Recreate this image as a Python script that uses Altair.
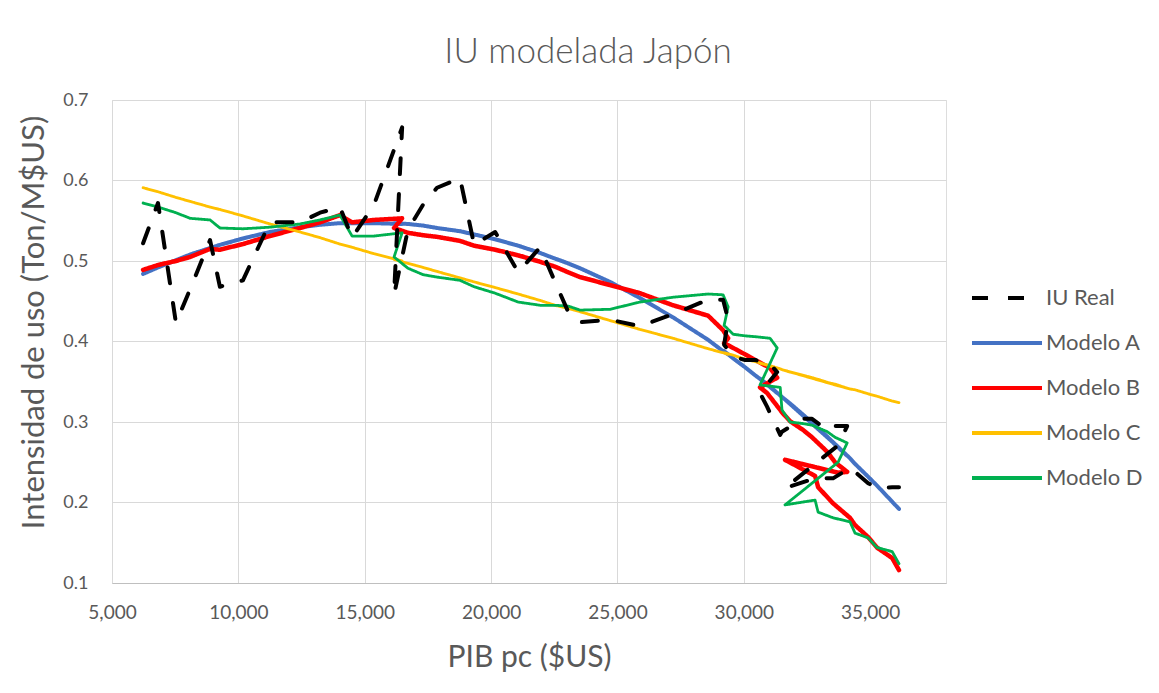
import altair as alt
import pandas as pd

years = list(range(1960, 2019))
pib_pc = [6230, 6820, 7530, 8090, 8880, 9270, 10180, 11250, 12440, 13230,
          14020, 14500, 15370, 16480, 16160, 16710, 17310, 17860, 18770, 19330,
          20160, 21070, 21940, 22530, 23050, 23520, 24710, 25890, 27200, 28590,
          29180, 29380, 29220, 29580, 30050, 30450, 31040, 31320, 30640, 30920,
          31440, 31510, 31830, 32350, 32700, 33300, 33610, 34090, 33730, 31630,
          32820, 32940, 33530, 34200, 34400, 34920, 35270, 35870, 36140]

iu_real = [0.522, 0.572, 0.423, 0.465, 0.526, 0.468, 0.476, 0.548, 0.548, 0.560,
           0.567, 0.529, 0.570, 0.666, 0.458, 0.539, 0.570, 0.591, 0.603, 0.520,
           0.536, 0.486, 0.517, 0.474, 0.437, 0.424, 0.427, 0.419, 0.434, 0.452,
           0.452, 0.427, 0.396, 0.381, 0.377, 0.377, 0.372, 0.362, 0.336, 0.319,
           0.284, 0.288, 0.294, 0.304, 0.304, 0.290, 0.295, 0.295, 0.271, 0.218,
           0.230, 0.230, 0.230, 0.243, 0.238, 0.224, 0.218, 0.219, 0.219]

modelo_a = [0.484, 0.492, 0.501, 0.508, 0.516, 0.520, 0.528, 0.536, 0.542, 0.545,
            0.547, 0.547, 0.547, 0.546, 0.547, 0.546, 0.544, 0.541, 0.537, 0.533,
            0.527, 0.519, 0.510, 0.503, 0.497, 0.491, 0.474, 0.454, 0.430, 0.402,
            0.388, 0.384, 0.388, 0.379, 0.368, 0.358, 0.344, 0.336, 0.354, 0.347,
            0.333, 0.331, 0.323, 0.309, 0.299, 0.282, 0.272, 0.258, 0.269, 0.328,
            0.295, 0.292, 0.275, 0.255, 0.248, 0.232, 0.221, 0.201, 0.192]

modelo_b = [0.489, 0.495, 0.500, 0.505, 0.515, 0.514, 0.521, 0.531, 0.541, 0.548,
            0.557, 0.548, 0.551, 0.553, 0.541, 0.535, 0.532, 0.530, 0.525, 0.519,
            0.514, 0.507, 0.499, 0.493, 0.486, 0.480, 0.470, 0.460, 0.445, 0.432,
            0.414, 0.404, 0.398, 0.392, 0.384, 0.377, 0.367, 0.355, 0.343, 0.336,
            0.315, 0.312, 0.301, 0.290, 0.281, 0.263, 0.250, 0.238, 0.237, 0.253,
            0.233, 0.219, 0.199, 0.181, 0.172, 0.157, 0.144, 0.131, 0.116]

modelo_c = [0.591, 0.586, 0.579, 0.574, 0.567, 0.564, 0.556, 0.546, 0.536, 0.529,
            0.521, 0.517, 0.509, 0.500, 0.502, 0.497, 0.492, 0.487, 0.479, 0.474,
            0.467, 0.459, 0.451, 0.445, 0.441, 0.437, 0.426, 0.415, 0.404, 0.391,
            0.386, 0.384, 0.386, 0.383, 0.378, 0.375, 0.370, 0.367, 0.373, 0.371,
            0.366, 0.365, 0.362, 0.358, 0.355, 0.349, 0.347, 0.342, 0.345, 0.364,
            0.354, 0.353, 0.347, 0.341, 0.340, 0.335, 0.332, 0.326, 0.324]

modelo_d = [0.572, 0.567, 0.560, 0.553, 0.551, 0.541, 0.540, 0.542, 0.546, 0.551,
            0.557, 0.531, 0.531, 0.535, 0.505, 0.491, 0.483, 0.480, 0.476, 0.468,
            0.460, 0.449, 0.445, 0.445, 0.444, 0.439, 0.440, 0.449, 0.455, 0.459,
            0.458, 0.443, 0.420, 0.409, 0.407, 0.406, 0.404, 0.392, 0.346, 0.345,
            0.343, 0.315, 0.300, 0.298, 0.296, 0.288, 0.281, 0.274, 0.250, 0.197,
            0.203, 0.188, 0.181, 0.176, 0.162, 0.156, 0.144, 0.139, 0.124]

series_names = ["IU Real", "Modelo A", "Modelo B", "Modelo C", "Modelo D"]
series_colors = ["#000000", "#4472C4", "#FF0000", "#FFC000", "#00B050"]
series_dash = [[16, 20], [1, 0], [1, 0], [1, 0], [1, 0]]
x_ticks = [5000, 10000, 15000, 20000, 25000, 30000, 35000]
y_ticks = [0.1, 0.2, 0.3, 0.4, 0.5, 0.6, 0.7]

series_values = [iu_real, modelo_a, modelo_b, modelo_c, modelo_d]
rows = []
for name, vals in zip(series_names, series_values):
    for i, (yr, x, v) in enumerate(zip(years, pib_pc, vals)):
        rows.append({"serie": name, "t": i, "anio": yr, "pib": x, "iu": v})
df = pd.DataFrame(rows)

FONT = "Lato"
TXT = "#595959"

x_enc = alt.X("pib:Q",
              scale=alt.Scale(domain=[5000, 38000], nice=False, zero=False),
              axis=alt.Axis(values=x_ticks, format=",d", title="PIB pc ($US)",
                            labelFont=FONT, labelFontSize=19, labelColor=TXT,
                            labelBaseline="middle", labelPadding=29,
                            labelFlush=False,
                            ticks=False, tickSize=0,
                            domainColor="#BFBFBF", domainWidth=1,
                            gridColor="#D9D9D9", gridWidth=1,
                            titleFont=FONT, titleFontSize=30, titleColor=TXT,
                            titleFontWeight="normal", titleBaseline="middle",
                            titleY=74))
y_enc = alt.Y("iu:Q",
              scale=alt.Scale(domain=[0.1, 0.7], nice=False, zero=False),
              axis=alt.Axis(values=y_ticks, format=".1f",
                            title="Intensidad de uso (Ton/M$US)",
                            labelFont=FONT, labelFontSize=18, labelColor=TXT,
                            labelPadding=24, labelBaseline="middle",
                            labelFlush=False,
                            domain=False, ticks=False, tickSize=0,
                            gridColor="#D9D9D9", gridWidth=1,
                            titleFont=FONT, titleFontSize=31, titleColor=TXT,
                            titleFontWeight="normal", titleBaseline="middle",
                            titleAngle=270, titleX=-78, titleY=222))
color_enc = alt.Color("serie:N",
                      scale=alt.Scale(domain=series_names, range=series_colors),
                      title=None,
                      legend=alt.Legend(orient="none", legendX=883, legendY=186,
                                        symbolType="M-3.5,0H3.5", symbolSize=400,
                                        symbolStrokeWidth=4, labelFont=FONT,
                                        labelFontSize=22, labelColor=TXT,
                                        labelOffset=27, rowPadding=22,
                                        padding=0))
dash_enc = alt.StrokeDash("serie:N",
                          scale=alt.Scale(domain=series_names, range=series_dash),
                          title=None)

base = alt.Chart(df).encode(x=x_enc, y=y_enc, color=color_enc,
                            strokeDash=dash_enc, order=alt.Order("t:Q"))

widths = {"Modelo A": 4, "Modelo B": 4.5, "Modelo C": 2.8, "Modelo D": 2.8, "IU Real": 4}
layers = []
for name in ["Modelo A", "Modelo B", "Modelo C", "Modelo D", "IU Real"]:
    layers.append(
        base.transform_filter(alt.datum.serie == name)
        .mark_line(strokeWidth=widths[name], strokeCap="round", strokeJoin="round")
    )

chart = alt.layer(*layers).properties(
    width=834, height=483,
    autosize=alt.AutoSizeParams(type="none"),
    padding={"left": 104, "top": 92, "right": 205, "bottom": 102},
    title=alt.TitleParams("IU modelada Japón", font=FONT, fontSize=35,
                          fontWeight=300, color=TXT, anchor="middle",
                          baseline="alphabetic", dx=59, dy=37, offset=30),
).configure_view(stroke=None).configure(background="white")

chart.save("out.html", embed_options={"renderer": "svg", "actions": False})
